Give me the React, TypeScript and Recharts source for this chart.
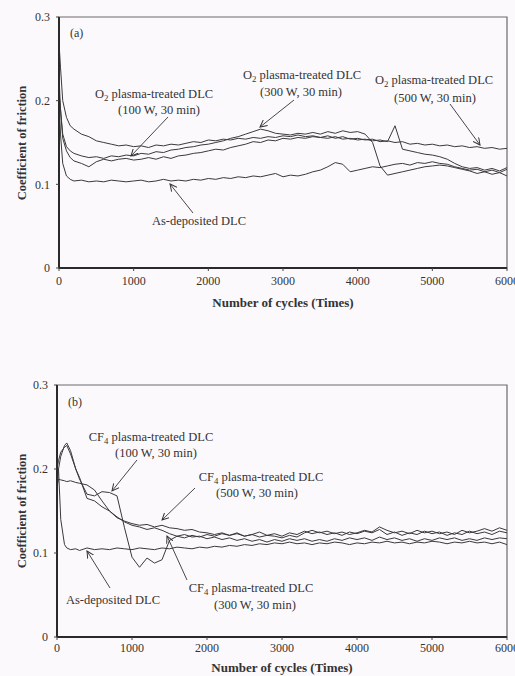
import React from 'react';
import { LineChart, Line, XAxis, YAxis, ReferenceArea } from 'recharts';

// ---------- Panel (a): O2 plasma-treated DLC ----------
const cyclesA = [0, 20, 50, 100, 150, 200,
  300, 400, 500, 600, 700, 800, 900, 1000,
  1100, 1200, 1300, 1400, 1500, 1600, 1700, 1800, 1900, 2000,
  2100, 2200, 2300, 2400, 2500, 2600, 2700, 2800, 2900, 3000,
  3100, 3200, 3300, 3400, 3500, 3600, 3700, 3800, 3900, 4000,
  4100, 4200, 4300, 4400, 4500, 4600, 4700, 4800, 4900, 5000,
  5100, 5200, 5300, 5400, 5500, 5600, 5700, 5800, 5900, 6000];

const asDepositedA = [0.2, 0.16, 0.125, 0.11, 0.106, 0.104,
  0.105, 0.103, 0.104, 0.103, 0.105, 0.104, 0.103, 0.104,
  0.105, 0.103, 0.104, 0.106, 0.104, 0.105, 0.104, 0.106, 0.105, 0.107,
  0.106, 0.108, 0.107, 0.109, 0.108, 0.11, 0.109, 0.111, 0.113, 0.109,
  0.111, 0.11, 0.112, 0.115, 0.117, 0.121, 0.126, 0.124, 0.115, 0.117,
  0.119, 0.121, 0.12, 0.122, 0.124, 0.125, 0.123, 0.126, 0.125, 0.127,
  0.125, 0.124, 0.121, 0.119, 0.117, 0.118, 0.115, 0.117, 0.114, 0.118];

const o2W500 = [0.27, 0.24, 0.2, 0.18, 0.17, 0.166,
  0.16, 0.157, 0.152, 0.15, 0.148, 0.146, 0.147, 0.145,
  0.146, 0.144, 0.147, 0.146, 0.148, 0.147, 0.149, 0.151, 0.15, 0.153,
  0.152, 0.154, 0.153, 0.155, 0.154, 0.156, 0.155, 0.157, 0.156, 0.158,
  0.157, 0.159, 0.157, 0.158, 0.156, 0.158, 0.155, 0.157, 0.154, 0.155,
  0.153, 0.154, 0.151, 0.152, 0.15, 0.151, 0.148, 0.149, 0.147, 0.148,
  0.146, 0.147, 0.145, 0.146, 0.144, 0.145, 0.143, 0.144, 0.142, 0.143];

const o2W300 = [0.21, 0.19, 0.16, 0.145, 0.14, 0.137,
  0.134, 0.132, 0.133, 0.131, 0.134, 0.133, 0.135, 0.134,
  0.137, 0.136, 0.139, 0.138, 0.141, 0.142, 0.144, 0.145, 0.147, 0.148,
  0.15, 0.152, 0.155, 0.157, 0.16, 0.163, 0.166, 0.164, 0.161, 0.16,
  0.159, 0.161, 0.16, 0.162, 0.16, 0.163, 0.161, 0.164, 0.162, 0.163,
  0.16, 0.15, 0.122, 0.111, 0.113, 0.115, 0.117, 0.119, 0.121, 0.122,
  0.123, 0.122, 0.12, 0.118, 0.116, 0.113, 0.115, 0.112, 0.114, 0.11];

const o2W100 = [0.23, 0.19, 0.155, 0.14, 0.132, 0.128,
  0.125, 0.121, 0.127, 0.13, 0.128, 0.13, 0.131, 0.129,
  0.13, 0.132, 0.13, 0.133, 0.131, 0.134, 0.135, 0.137, 0.138, 0.14,
  0.142, 0.141, 0.144, 0.146, 0.148, 0.151, 0.15, 0.153, 0.152, 0.155,
  0.154, 0.156, 0.155, 0.157, 0.156, 0.155, 0.157, 0.154, 0.155, 0.153,
  0.154, 0.152, 0.153, 0.151, 0.17, 0.142, 0.14, 0.138, 0.136, 0.135,
  0.133, 0.13, 0.125, 0.121, 0.119, 0.12, 0.117, 0.119, 0.116, 0.12];

// ---------- Panel (b): CF4 plasma-treated DLC ----------
const cyclesB = [0, 20, 50, 100, 130, 180, 250,
  300, 400, 500, 600, 700, 800, 900, 1000,
  1100, 1200, 1300, 1400, 1500, 1600, 1700, 1800, 1900, 2000,
  2100, 2200, 2300, 2400, 2500, 2600, 2700, 2800, 2900, 3000,
  3100, 3200, 3300, 3400, 3500, 3600, 3700, 3800, 3900, 4000,
  4100, 4200, 4300, 4400, 4500, 4600, 4700, 4800, 4900, 5000,
  5100, 5200, 5300, 5400, 5500, 5600, 5700, 5800, 5900, 6000];

const asDepositedB = [0.17, 0.2, 0.14, 0.11, 0.106, 0.104, 0.105,
  0.103, 0.106, 0.104, 0.105, 0.104, 0.106, 0.105, 0.104,
  0.106, 0.105, 0.104, 0.106, 0.105, 0.107, 0.106, 0.105, 0.107, 0.106,
  0.108, 0.107, 0.109, 0.108, 0.11, 0.109, 0.111, 0.11, 0.112, 0.111,
  0.113, 0.111, 0.112, 0.11, 0.112, 0.111, 0.113, 0.112, 0.11, 0.112,
  0.111, 0.113, 0.112, 0.114, 0.112, 0.113, 0.111, 0.113, 0.112, 0.114,
  0.113, 0.111, 0.113, 0.112, 0.114, 0.112, 0.113, 0.111, 0.113, 0.11];

const cf4W100 = [0.19, 0.2, 0.215, 0.228, 0.231, 0.222, 0.2,
  0.188, 0.17, 0.168, 0.173, 0.172, 0.168, 0.13, 0.095,
  0.083, 0.094, 0.088, 0.092, 0.115, 0.12, 0.118, 0.121, 0.119, 0.122,
  0.12, 0.123, 0.121, 0.124, 0.12, 0.122, 0.125, 0.121, 0.123, 0.12,
  0.124, 0.122, 0.126, 0.123, 0.125, 0.122, 0.124, 0.121, 0.125, 0.123,
  0.126, 0.124, 0.128, 0.122, 0.125, 0.121, 0.124, 0.122, 0.126, 0.123,
  0.125, 0.121, 0.124, 0.122, 0.126, 0.123, 0.125, 0.122, 0.126, 0.124];

const cf4W300 = [0.2, 0.21, 0.22, 0.226, 0.228, 0.218, 0.2,
  0.19, 0.165, 0.162, 0.155, 0.15, 0.143, 0.137, 0.133,
  0.131, 0.128, 0.13, 0.127, 0.123, 0.12, 0.122, 0.119, 0.12, 0.117,
  0.119, 0.116, 0.118, 0.115, 0.117, 0.114, 0.116, 0.113, 0.116, 0.114,
  0.117, 0.115, 0.117, 0.114, 0.116, 0.114, 0.117, 0.115, 0.118, 0.116,
  0.118, 0.115, 0.119, 0.116, 0.118, 0.115, 0.117, 0.114, 0.117, 0.115,
  0.118, 0.116, 0.118, 0.115, 0.117, 0.115, 0.118, 0.116, 0.118, 0.117];

const cf4W500 = [0.18, 0.188, 0.187, 0.186, 0.185, 0.186, 0.184,
  0.183, 0.181, 0.175, 0.162, 0.15, 0.142, 0.138, 0.135,
  0.133, 0.134, 0.131, 0.133, 0.13, 0.129, 0.127, 0.128, 0.125, 0.124,
  0.122, 0.124, 0.121, 0.123, 0.12, 0.122, 0.119, 0.121, 0.12, 0.118,
  0.121, 0.119, 0.124, 0.127, 0.124, 0.126, 0.123, 0.125, 0.122, 0.124,
  0.127, 0.125, 0.131, 0.127, 0.124, 0.126, 0.123, 0.127, 0.124, 0.126,
  0.123, 0.125, 0.122, 0.127, 0.124, 0.126, 0.129, 0.126, 0.13, 0.127];

const xTicks = [0, 1000, 2000, 3000, 4000, 5000, 6000];
const yTicks = [0, 0.1, 0.2, 0.3];

const dataA = cyclesA.map((c, i) => ({
  c, asDep: asDepositedA[i], w100: o2W100[i], w300: o2W300[i], w500: o2W500[i],
}));
const dataB = cyclesB.map((c, i) => ({
  c, asDep: asDepositedB[i], w100: cf4W100[i], w300: cf4W300[i], w500: cf4W500[i],
}));

const FONT = '"Liberation Serif", "Times New Roman", serif';
const LINE = '#3a3a3a';
const TXT = '#333';
const BG = '#fcf9fc';

const fmtY = (v: number) => (v === 0 ? '0' : v.toFixed(1));

function Panel({ data, top, height, margin, xAxisH, tickGapX, yW }: any) {
  const keys = ['asDep', 'w100', 'w300', 'w500'];
  return (
    <div style={{ position: 'absolute', left: 0, top }}>
      <LineChart width={515} height={height} data={data} margin={margin}>
        <ReferenceArea x1={0} x2={6000} y1={0} y2={0.3} fill="none" stroke="#6a6a6a" strokeWidth={1.2} ifOverflow="visible" />
        <XAxis
          type="number"
          dataKey="c"
          domain={[0, 6000]}
          ticks={xTicks}
          interval={0}
          height={xAxisH}
          tickSize={3}
          tickMargin={tickGapX}
          axisLine={{ stroke: '#2a2a2a', strokeWidth: 2 }}
          tickLine={{ stroke: '#444' }}
          tick={{ fill: TXT, fontSize: 12, fontFamily: FONT }}
        />
        <YAxis
          type="number"
          domain={[0, 0.3]}
          ticks={yTicks}
          interval={0}
          width={yW}
          tickSize={3}
          tickMargin={6}
          tickFormatter={fmtY}
          axisLine={{ stroke: '#2a2a2a', strokeWidth: 2 }}
          tickLine={{ stroke: '#444' }}
          tick={{ fill: TXT, fontSize: 12, fontFamily: FONT }}
        />
        {keys.map((k) => (
          <Line key={k} type="linear" dataKey={k} stroke={LINE} strokeWidth={1} dot={false} isAnimationActive={false} />
        ))}
      </LineChart>
    </div>
  );
}

function Sub({ x, y, pre, sub, post, size = 12.5 }: any) {
  return (
    <text x={x} y={y} textAnchor="middle" fontFamily={FONT} fontSize={size} fill={TXT}>
      <tspan>{pre}</tspan>
      <tspan fontSize={size * 0.7} dy={3}>{sub}</tspan>
      <tspan dy={-3}>{post}</tspan>
    </text>
  );
}

function T({ x, y, children, anchor = 'middle', size = 12.5, bold = false, rotate }: any) {
  return (
    <text
      x={x}
      y={y}
      textAnchor={anchor}
      fontFamily={FONT}
      fontSize={size}
      fontWeight={bold ? 'bold' : 'normal'}
      fill={TXT}
      transform={rotate ? `rotate(${rotate} ${x} ${y})` : undefined}
    >
      {children}
    </text>
  );
}

function Arrow({ x1, y1, x2, y2 }: any) {
  return <line x1={x1} y1={y1} x2={x2} y2={y2} stroke="#333" strokeWidth={0.9} markerEnd="url(#ah)" />;
}

function Overlay() {
  return (
    <svg width={515} height={676} style={{ position: 'absolute', left: 0, top: 0, pointerEvents: 'none' }}>
      <defs>
        <marker id="ah" markerWidth="8" markerHeight="8" refX="7" refY="4" orient="auto" markerUnits="userSpaceOnUse">
          <path d="M0,0.5 L7,4 L0,7.5" fill="none" stroke="#333" strokeWidth="1" />
        </marker>
      </defs>
      {/* axis titles */}
      <T x={26} y={143} bold size={12.5} rotate={-90}>Coefficient of friction</T>
      <T x={283} y={307} bold size={13}>Number of cycles (Times)</T>
      <T x={26} y={511} bold size={12.5} rotate={-90}>Coefficient of friction</T>
      <T x={282} y={672} bold size={13}>Number of cycles (Times)</T>

      {/* panel (a) */}
      <T x={70} y={37} anchor="start" size={12}>(a)</T>
      <Sub x={154} y={98} pre="O" sub="2" post=" plasma-treated DLC" />
      <T x={159} y={114}>(100 W, 30 min)</T>
      <Arrow x1={168} y1={117} x2={131} y2={156} />
      <Sub x={302} y={79} pre="O" sub="2" post=" plasma-treated DLC" />
      <T x={301} y={96}>(300 W, 30 min)</T>
      <Arrow x1={294} y1={100} x2={260} y2={127} />
      <Sub x={434} y={84} pre="O" sub="2" post=" plasma-treated DLC" />
      <T x={435} y={102}>(500 W, 30 min)</T>
      <Arrow x1={450} y1={104} x2={480} y2={145} />
      <T x={199} y={225}>As-deposited DLC</T>
      <Arrow x1={193} y1={213} x2={170} y2={184} />

      {/* panel (b) */}
      <T x={68} y={406} anchor="start" size={12}>(b)</T>
      <Sub x={151} y={441} pre="CF" sub="4" post=" plasma-treated DLC" />
      <T x={156} y={457}>(100 W, 30 min)</T>
      <Arrow x1={137} y1={460} x2={112} y2={491} />
      <Sub x={261} y={481} pre="CF" sub="4" post=" plasma-treated DLC" />
      <T x={257} y={497}>(500 W, 30 min)</T>
      <Arrow x1={195} y1={488} x2={162} y2={520} />
      <Sub x={251} y={592} pre="CF" sub="4" post=" plasma-treated DLC" />
      <T x={255} y={609}>(300 W, 30 min)</T>
      <Arrow x1={187} y1={580} x2={167} y2={536} />
      <T x={113} y={604}>As-deposited DLC</T>
      <Arrow x1={110} y1={588} x2={87} y2={551} />
    </svg>
  );
}

export default function App() {
  return (
    <div style={{ position: 'absolute', left: 0, top: 0, width: 515, height: 676, background: BG, overflow: 'hidden' }}>
      <Panel data={dataA} top={0} height={320} margin={{ top: 17, right: 8, left: 0, bottom: 12 }} xAxisH={40} tickGapX={5} yW={59} />
      <Panel data={dataB} top={340} height={336} margin={{ top: 45, right: 8, left: 0, bottom: 2 }} xAxisH={37} tickGapX={3} yW={57} />
      <Overlay />
    </div>
  );
}
